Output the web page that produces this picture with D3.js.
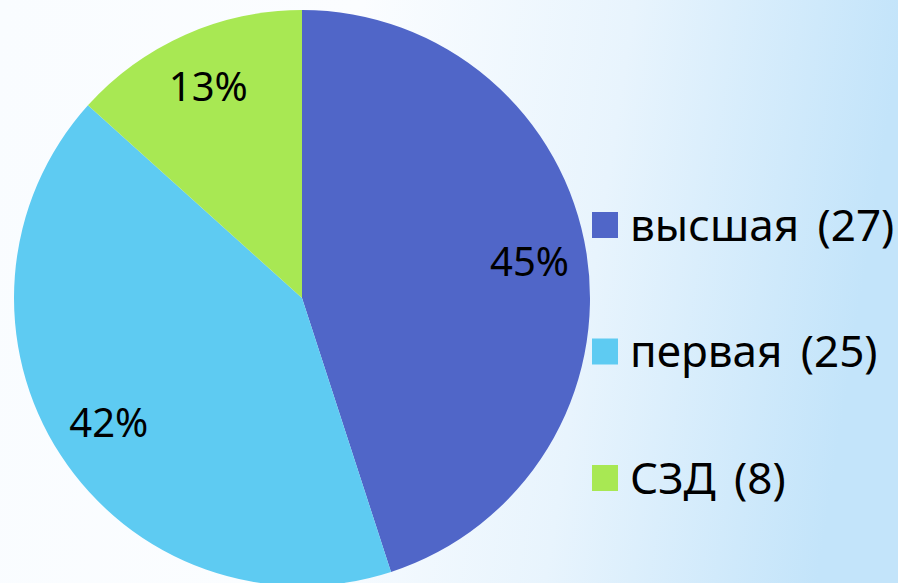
<!DOCTYPE html>
<html lang="ru">
<head>
    <meta charset="UTF-8">
    <title>Pie chart</title>
    <script src="https://d3js.org/d3.v7.min.js"></script>
    <style>
        body {
            margin: 0;
            padding: 0;
            font-family: "Noto Sans", sans-serif;
        }
    </style>
</head>
<body>
    <svg width="898" height="583"></svg>

    <script>
        const categories = ["высшая", "первая", "СЗД"];
        const counts = [27, 25, 8];
        const percentLabels = ["45%", "42%", "13%"];
        const colors = ["#5066C8", "#5ECBF2", "#A8E853"];

        const width = 898, height = 583;
        const cx = 302, cy = 298, radius = 288;

        const svg = d3.select("svg");

        // background: near white fading to light blue on the right
        const defs = svg.append("defs");
        const grad = defs.append("linearGradient")
            .attr("id", "bg")
            .attr("x1", "0").attr("y1", "0")
            .attr("x2", "1").attr("y2", "0.1");
        grad.append("stop").attr("offset", "0").attr("stop-color", "#f9fcff");
        grad.append("stop").attr("offset", "0.4").attr("stop-color", "#fbfdff");
        grad.append("stop").attr("offset", "0.7").attr("stop-color", "#e8f4fd");
        grad.append("stop").attr("offset", "1").attr("stop-color", "#c3e4fa");

        svg.append("rect")
            .attr("width", width)
            .attr("height", height)
            .attr("fill", "url(#bg)");

        const data = categories.map((c, i) => ({ name: c, value: counts[i], label: percentLabels[i], color: colors[i] }));

        const pie = d3.pie()
            .value(d => d.value)
            .sort(null);

        const arc = d3.arc()
            .innerRadius(0)
            .outerRadius(radius);

        const labelArc = d3.arc()
            .innerRadius(radius * 0.8)
            .outerRadius(radius * 0.8);

        const g = svg.append("g")
            .attr("transform", `translate(${cx},${cy})`);

        const arcs = pie(data);

        g.selectAll("path")
            .data(arcs)
            .enter()
            .append("path")
            .attr("d", arc)
            .attr("fill", d => d.data.color);

        g.selectAll("text")
            .data(arcs)
            .enter()
            .append("text")
            .attr("transform", d => {
                const [x, y] = labelArc.centroid(d);
                return `translate(${x},${y})`;
            })
            .attr("text-anchor", "middle")
            .attr("dy", "0.34em")
            .style("font-size", "40px")
            .style("fill", "#000")
            .text(d => d.data.label);

        // legend
        const legendY = d3.scalePoint()
            .domain(categories)
            .range([225, 478]);

        const legend = svg.append("g");

        const items = legend.selectAll("g")
            .data(data)
            .enter()
            .append("g")
            .attr("transform", d => `translate(592,${legendY(d.name)})`);

        items.append("rect")
            .attr("x", 0)
            .attr("y", -13)
            .attr("width", 26)
            .attr("height", 26)
            .attr("fill", d => d.color);

        items.append("text")
            .attr("x", 38)
            .attr("dy", "0.36em")
            .style("font-size", "44px")
            .style("word-spacing", "7px")
            .style("fill", "#000")
            .text(d => `${d.name} (${d.value})`);
    </script>
</body>
</html>
